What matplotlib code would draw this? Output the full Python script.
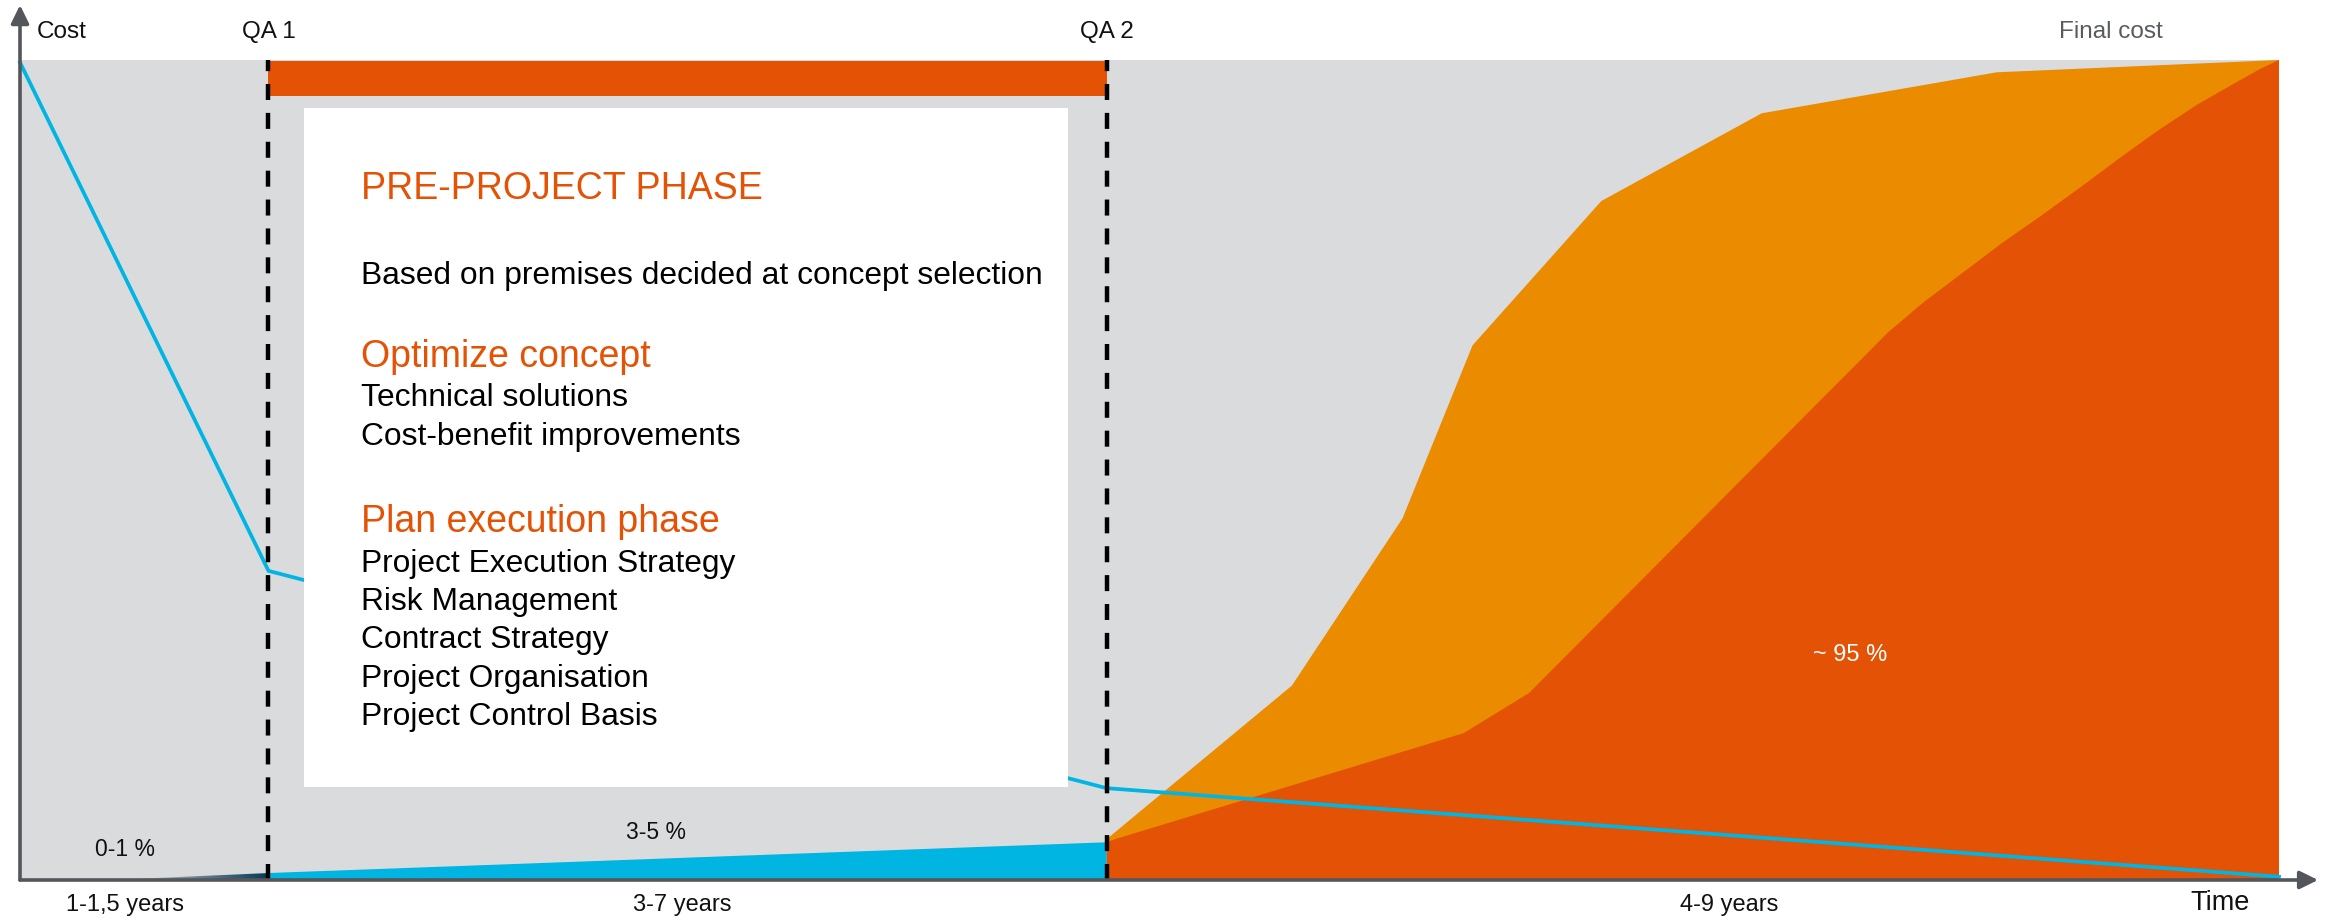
import numpy as np
import matplotlib
matplotlib.use("Agg")
import matplotlib.pyplot as plt
from matplotlib.patches import Rectangle
from matplotlib.colors import LinearSegmentedColormap

plt.rcParams['font.family'] = ['Liberation Sans', 'DejaVu Sans']

# time runs 0 (start) .. 100 (final cost), cost in % of final cost
qa_gates = [11.0, 48.1]
qa_labels = ["QA 1", "QA 2"]

# ability to influence cost (blue line)
influence_t = [0.0, 11.0, 48.1, 100.0]
influence_v = [99.7, 37.7, 11.2, 0.4]

# spent before QA1 and in the pre-project phase
early_t = [4.0, 11.0]
early_v = [0.0, 0.85]
preproj_t = [11.0, 48.1]
preproj_v = [0.85, 4.6]

# committed cost after QA2
committed_t = [48.1, 48.2, 56.3, 61.2, 64.3, 70.0, 77.1, 87.5, 100.0]
committed_v = [4.6, 5.2, 23.7, 44.1, 65.2, 82.8, 93.5, 98.5, 100.0]

# incurred cost after QA2
incurred_t = [48.1, 48.5, 63.9, 66.8, 82.7, 84.24, 85.97, 87.7, 89.44, 91.17,
              92.91, 94.64, 96.38, 98.12, 99.16, 100.0]
incurred_v = [4.6, 5.0, 17.9, 22.8, 66.8, 70.4, 74.0, 77.6, 80.95, 84.4,
              87.97, 91.4, 94.56, 97.3, 98.9, 100.0]

phase_spend = ["0-1 %", "3-5 %", "~ 95 %"]
phase_years = ["1-1,5 years", "3-7 years", "4-9 years"]

box_lines = [
    ("PRE-PROJECT PHASE", "head"),
    ("Based on premises decided at concept selection", "body"),
    ("Optimize concept", "head"),
    ("Technical solutions", "body"),
    ("Cost-benefit improvements", "body"),
    ("Plan execution phase", "head"),
    ("Project Execution Strategy", "body"),
    ("Risk Management", "body"),
    ("Contract Strategy", "body"),
    ("Project Organisation", "body"),
    ("Project Control Basis", "body"),
]
box_baselines = [83.0, 72.7, 62.56, 57.83, 53.1, 42.44, 37.57, 32.89, 28.27, 23.54, 18.9]

GREY = '#DADBDD'
DARK_ORANGE = '#E35205'
LIGHT_ORANGE = '#EB8C00'
BLUE = '#00B5E2'
AXIS = '#53565B'

fig = plt.figure(figsize=(23.29, 9.21), dpi=100)
ax = fig.add_axes([0, 0, 1, 1])
ax.axis('off')

ax.add_patch(Rectangle((0, 0), 100, 100, color=GREY, lw=0, zorder=0))

# orange areas after QA2
ax.fill(committed_t + [100, committed_t[0]], committed_v + [0, 0],
        color=LIGHT_ORANGE, lw=0, zorder=1)
ax.fill(incurred_t + [100, incurred_t[0]], incurred_v + [0, 0],
        color=DARK_ORANGE, lw=0, zorder=2)

# spend up to QA2
ax.fill(preproj_t + [preproj_t[-1], preproj_t[0]], preproj_v + [0, 0],
        color=BLUE, lw=0, zorder=2)
wedge = ax.fill(early_t + [early_t[-1]], early_v + [0], color='none', lw=0)[0]
grad_cmap = LinearSegmentedColormap.from_list('wedge', [GREY, '#0B3857'])
grad = ax.imshow(np.linspace(0, 1, 256).reshape(1, -1), cmap=grad_cmap,
                 extent=(early_t[0], early_t[-1], 0, max(early_v)),
                 aspect='auto', interpolation='bicubic', zorder=2)
grad.set_clip_path(wedge)

ax.plot(influence_t, influence_v, color=BLUE, lw=2.7, zorder=3,
        solid_joinstyle='miter')

# pre-project phase bar and text box
ax.add_patch(Rectangle((qa_gates[0], 95.6), qa_gates[1] - qa_gates[0], 4.27,
                       color=DARK_ORANGE, lw=0, zorder=4))
ax.add_patch(Rectangle((12.57, 11.34), 33.82, 82.81, color='white', lw=0, zorder=4))

for (txt, kind), yb in zip(box_lines, box_baselines):
    if kind == "head":
        ax.text(15.1, yb, txt, color=DARK_ORANGE, fontsize=27, va='baseline', zorder=5)
    else:
        ax.text(15.1, yb, txt, color='black', fontsize=22.9, va='baseline', zorder=5)

# QA gates
for g, lab in zip(qa_gates, qa_labels):
    ax.plot([g, g], [0, 100], color='black', lw=3.2, dashes=(3.6, 2.9), zorder=6)
    ax.text(g, 103.4, lab, ha='center', va='center', fontsize=17.5, color='#111111')

# axes with arrow heads
arrow = dict(arrowstyle='-|>,head_length=0.55,head_width=0.27', lw=2.6,
             color=AXIS, shrinkA=0, shrinkB=0, mutation_scale=20)
ax.annotate('', xy=(101.73, 0), xytext=(0, 0), arrowprops=arrow, zorder=7)
ax.annotate('', xy=(0, 106.7), xytext=(0, 0), arrowprops=arrow, zorder=7)

ax.text(0.75, 103.4, "Cost", ha='left', va='center', fontsize=17.5, color='#111111')
ax.text(92.56, 103.4, "Final cost", ha='center', va='center', fontsize=17.5, color='#585B60')
ax.text(97.4, -2.8, "Time", ha='center', va='center', fontsize=19.5, color='#111111')

ax.text(4.65, 3.66, phase_spend[0], ha='center', va='center', fontsize=16.5, color='#111111')
ax.text(28.15, 5.85, phase_spend[1], ha='center', va='center', fontsize=16.5, color='#111111')
ax.text(81.0, 27.4, phase_spend[2], ha='center', va='center', fontsize=17, color='white', zorder=5)

for xc, lab in zip([4.65, 29.3, 75.65], phase_years):
    ax.text(xc, -3.1, lab, ha='center', va='center', fontsize=17, color='#111111')

ax.set_xlim(-20 / 22.59, 2309 / 22.59)
ax.set_ylim(-41 / 8.2, 880 / 8.2)

fig.savefig('out.png', dpi=100)
